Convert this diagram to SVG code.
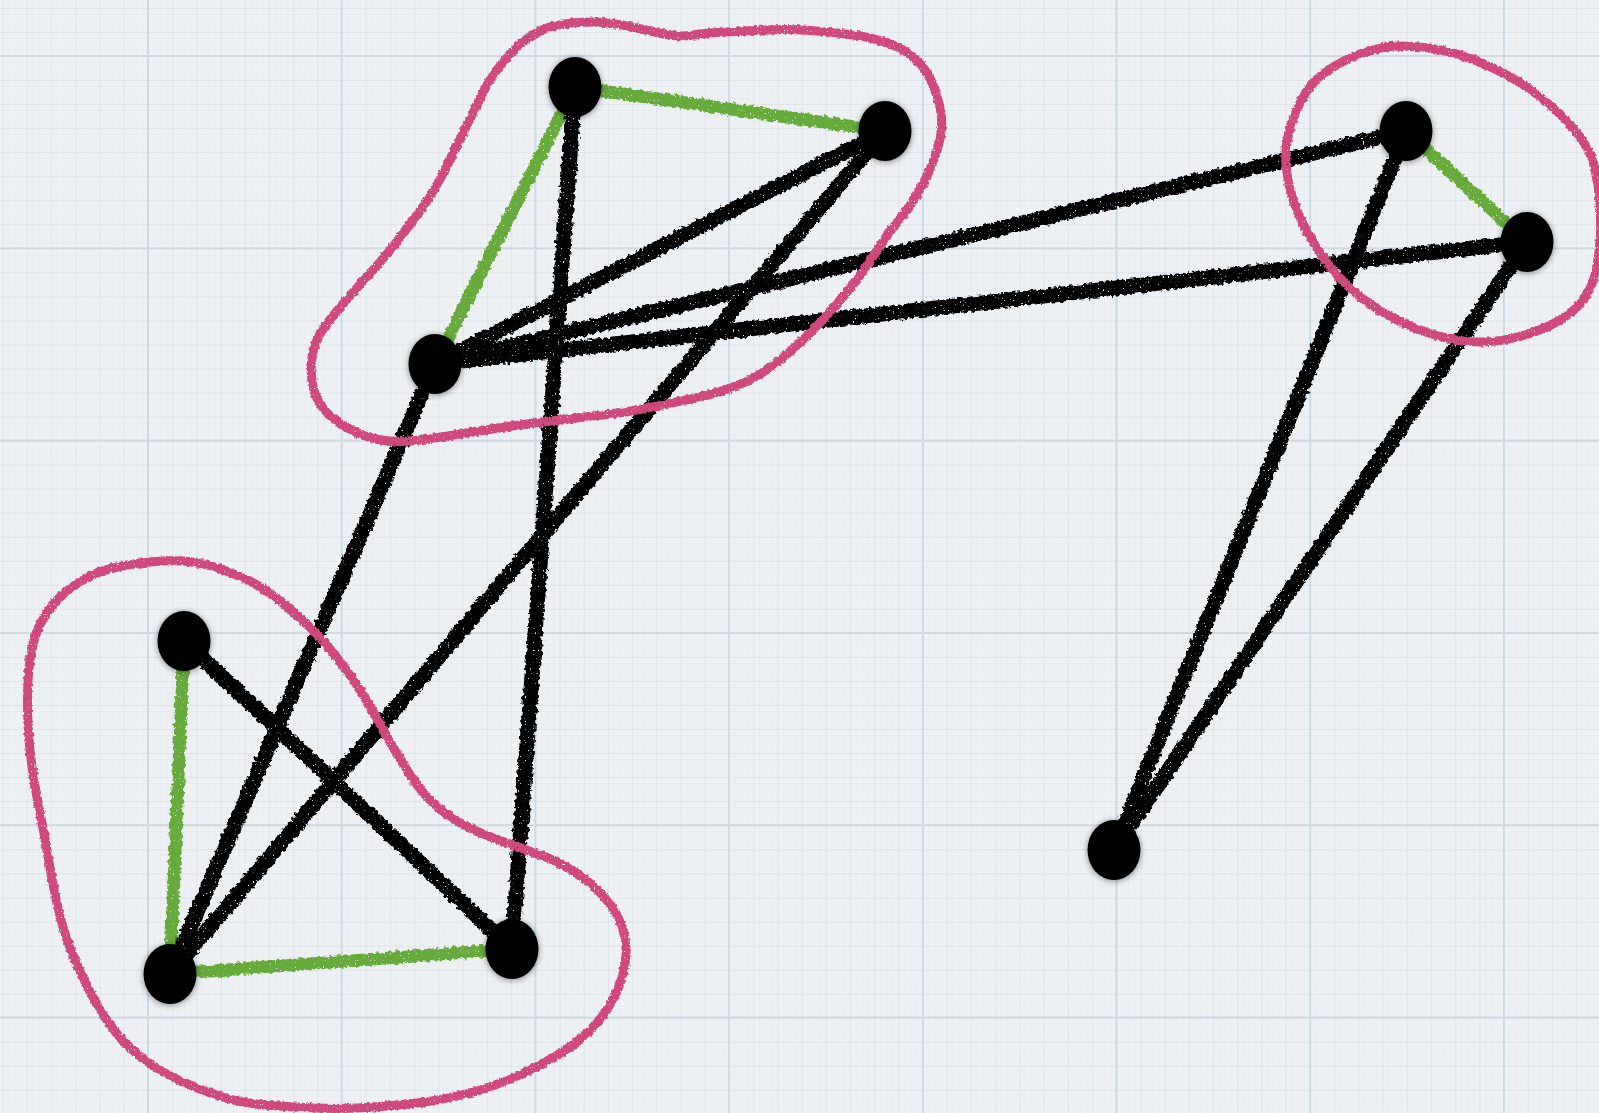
<svg xmlns="http://www.w3.org/2000/svg" width="1599" height="1113" viewBox="0 0 1599 1113">
<style>
.edge{fill:none;stroke-linecap:round}
.blk{stroke:#000;stroke-width:15}
.grn{stroke:#66ab3a;stroke-width:12.5}
.hull{fill:none;stroke:#cf4a7d;stroke-width:9;stroke-linejoin:round}
.node{fill:#000}
</style>
<defs>
<pattern id="fine" x="148" y="56" width="6.05" height="6.01" patternUnits="userSpaceOnUse"><path d="M0.3 0V6.01M0 0.3H6.05" stroke="#e6e9ec" stroke-width="0.6" fill="none"/></pattern>
<pattern id="minor" x="148" y="56" width="24.21" height="24.04" patternUnits="userSpaceOnUse"><path d="M0.5 0V24.04M0 0.5H24.21" stroke="#e0e5ea" stroke-width="1" fill="none"/></pattern>
<pattern id="major" x="147" y="55" width="193.7" height="192.3" patternUnits="userSpaceOnUse"><path d="M1 0V192.3" stroke="#c9dbe7" stroke-width="2" fill="none"/><path d="M0 1H193.7" stroke="#d0d8e2" stroke-width="2" fill="none"/></pattern>
<filter id="chalk" filterUnits="userSpaceOnUse" x="0" y="0" width="1599" height="1113">
<feTurbulence type="fractalNoise" baseFrequency="0.25" numOctaves="2" seed="3" result="n"/>
<feDisplacementMap in="SourceGraphic" in2="n" scale="6" xChannelSelector="R" yChannelSelector="G" result="d"/>
<feMorphology in="SourceGraphic" operator="erode" radius="1.5" result="core"/>
<feMerge result="m"><feMergeNode in="d"/><feMergeNode in="core"/></feMerge>
<feTurbulence type="fractalNoise" baseFrequency="0.6" numOctaves="1" seed="9" result="n2"/>
<feColorMatrix in="n2" type="matrix" values="0 0 0 0 0  0 0 0 0 0  0 0 0 0 0  -16 0 0 0 12" result="holes"/>
<feComposite in="m" in2="holes" operator="in"/>
</filter>
<filter id="chalk2" filterUnits="userSpaceOnUse" x="0" y="0" width="1599" height="1113">
<feTurbulence type="fractalNoise" baseFrequency="0.3" numOctaves="2" seed="5" result="n"/>
<feDisplacementMap in="SourceGraphic" in2="n" scale="4" xChannelSelector="R" yChannelSelector="G" result="d"/>
<feMorphology in="SourceGraphic" operator="erode" radius="1" result="core"/>
<feMerge result="m"><feMergeNode in="d"/><feMergeNode in="core"/></feMerge>
<feTurbulence type="fractalNoise" baseFrequency="0.7" numOctaves="1" seed="11" result="n2"/>
<feColorMatrix in="n2" type="matrix" values="0 0 0 0 0  0 0 0 0 0  0 0 0 0 0  -16 0 0 0 12.2" result="holes"/>
<feComposite in="m" in2="holes" operator="in"/>
</filter>
<filter id="shadow" x="-40%" y="-40%" width="180%" height="180%">
<feGaussianBlur in="SourceAlpha" stdDeviation="3"/>
<feOffset dx="0" dy="1" result="b"/>
<feFlood flood-color="#000" flood-opacity="0.45"/>
<feComposite in2="b" operator="in" result="s"/>
<feMerge><feMergeNode in="s"/><feMergeNode in="SourceGraphic"/></feMerge>
</filter>
</defs>
<g id="background">
<rect width="1599" height="1113" fill="#eef1f3"/>
<rect width="1599" height="1113" fill="url(#fine)"/>
<rect width="1599" height="1113" fill="url(#minor)"/>
<rect width="1599" height="1113" fill="url(#major)"/>
</g>
<g id="connectors" filter="url(#chalk)">
<line class="edge blk" x1="575" y1="87" x2="512" y2="949"/>
<line class="edge blk" x1="885" y1="131" x2="435" y2="364"/>
<line class="edge blk" x1="885" y1="131" x2="170" y2="974"/>
<line class="edge blk" x1="435" y1="364" x2="170" y2="974"/>
<line class="edge blk" x1="435" y1="364" x2="1406" y2="131"/>
<line class="edge blk" x1="435" y1="364" x2="1527" y2="242"/>
<line class="edge blk" x1="184" y1="641" x2="512" y2="949"/>
<line class="edge blk" x1="1406" y1="131" x2="1114" y2="850"/>
<line class="edge blk" x1="1527" y1="242" x2="1114" y2="850"/>
<line class="edge grn" x1="575" y1="87" x2="885" y2="131"/>
<line class="edge grn" x1="575" y1="87" x2="435" y2="364"/>
<line class="edge grn" x1="184" y1="641" x2="170" y2="974"/>
<line class="edge grn" x1="170" y1="974" x2="512" y2="949"/>
<line class="edge grn" x1="1406" y1="131" x2="1527" y2="242"/>
</g>
<g id="groups" filter="url(#chalk2)">
<path id="group-1" class="hull" d="M572,23 Q594,21 609,23 Q624,25 641.5,29 Q659,33 669.5,35 Q680,37 693,35 Q706,33 725.5,32 Q745,31 767,30 Q789,29 810.5,30.5 Q832,32 853.5,35 Q875,38 890.5,44 Q906,50 916.5,60 Q927,70 932.5,83.5 Q938,97 940.5,110 Q943,123 940.5,136.5 Q938,150 932.5,163.5 Q927,177 918.5,192 Q910,207 899,220 Q888,233 879.5,246.5 Q871,260 860,275 Q849,290 836,305 Q823,320 808,335 Q793,350 775.5,363.5 Q758,377 738.5,385 Q719,393 695.5,398 Q672,403 650,407.5 Q628,412 606.5,414.5 Q585,417 559,420 Q533,423 509,426.5 Q485,430 463.5,433.5 Q442,437 420,440 Q398,443 381,440 Q364,437 348.5,428.5 Q333,420 324.5,410 Q316,400 313,386.5 Q310,373 312,358 Q314,343 321.5,331.5 Q329,320 342,305 Q355,290 370,273.5 Q385,257 398,240 Q411,223 422,208 Q433,193 441.5,176.5 Q450,160 456.5,146.5 Q463,133 469.5,120 Q476,107 482.5,93.5 Q489,80 498,68.5 Q507,57 515.5,48.5 Q524,40 537,32.5 Q550,25 572,23 Z"/>
<path id="group-2" class="hull" d="M124.5,565.5 Q145,562 161.5,561 Q178,560 192.5,562 Q207,564 219.5,568.5 Q232,573 244.5,578.5 Q257,584 269.5,593 Q282,602 294.5,613 Q307,624 317.5,635 Q328,646 338,659 Q348,672 356.5,684.5 Q365,697 373,711.5 Q381,726 389.5,741 Q398,756 408.5,772.5 Q419,789 431.5,801.5 Q444,814 460.5,823 Q477,832 497.5,839.5 Q518,847 539,854.5 Q560,862 576.5,873 Q593,884 605.5,898.5 Q618,913 623,929.5 Q628,946 625,964 Q622,982 613.5,998.5 Q605,1015 590.5,1029.5 Q576,1044 557.5,1055 Q539,1066 518.5,1075.5 Q498,1085 473,1092 Q448,1099 421,1102.5 Q394,1106 367,1107.5 Q340,1109 315,1108 Q290,1107 265,1105 Q240,1103 217.5,1095.5 Q195,1088 176.5,1079 Q158,1070 141,1057 Q124,1044 112,1027.5 Q100,1011 89.5,991 Q79,971 70.5,949 Q62,927 57,903.5 Q52,880 48,856 Q44,832 39.5,810.5 Q35,789 32,767 Q29,745 28,723 Q27,701 28,681 Q29,661 33,644.5 Q37,628 45.5,615 Q54,602 64.5,593 Q75,584 89.5,576.5 Q104,569 124.5,565.5 Z"/>
<path id="group-3" class="hull" d="M1425,47.5 Q1447,50 1470,58.5 Q1493,67 1513,78.5 Q1533,90 1550,105 Q1567,120 1578.5,135 Q1590,150 1594,165 Q1598,180 1599.5,197.5 Q1601,215 1600.5,232.5 Q1600,250 1597,266.5 Q1594,283 1585.5,296.5 Q1577,310 1560,320 Q1543,330 1521.5,336 Q1500,342 1480,342 Q1460,342 1438.5,336 Q1417,330 1397,320 Q1377,310 1360,296.5 Q1343,283 1330,266.5 Q1317,250 1307,231.5 Q1297,213 1292,196.5 Q1287,180 1286,163.5 Q1285,147 1289,132 Q1293,117 1301.5,100 Q1310,83 1326.5,71.5 Q1343,60 1360,54 Q1377,48 1390,46.5 Q1403,45 1425,47.5 Z"/>
</g>
<g id="node-a" filter="url(#shadow)"><ellipse class="node" cx="575" cy="87" rx="26.5" ry="30"/></g>
<g id="node-b" filter="url(#shadow)"><ellipse class="node" cx="885" cy="131" rx="26.5" ry="30"/></g>
<g id="node-c" filter="url(#shadow)"><ellipse class="node" cx="435" cy="364" rx="26.5" ry="30"/></g>
<g id="node-d" filter="url(#shadow)"><ellipse class="node" cx="184" cy="641" rx="26.5" ry="30"/></g>
<g id="node-e" filter="url(#shadow)"><ellipse class="node" cx="170" cy="974" rx="26.5" ry="30"/></g>
<g id="node-f" filter="url(#shadow)"><ellipse class="node" cx="512" cy="949" rx="26.5" ry="30"/></g>
<g id="node-g" filter="url(#shadow)"><ellipse class="node" cx="1406" cy="131" rx="26.5" ry="30"/></g>
<g id="node-h" filter="url(#shadow)"><ellipse class="node" cx="1527" cy="242" rx="26.5" ry="30"/></g>
<g id="node-i" filter="url(#shadow)"><ellipse class="node" cx="1114" cy="850" rx="26.5" ry="30"/></g>
</svg>
